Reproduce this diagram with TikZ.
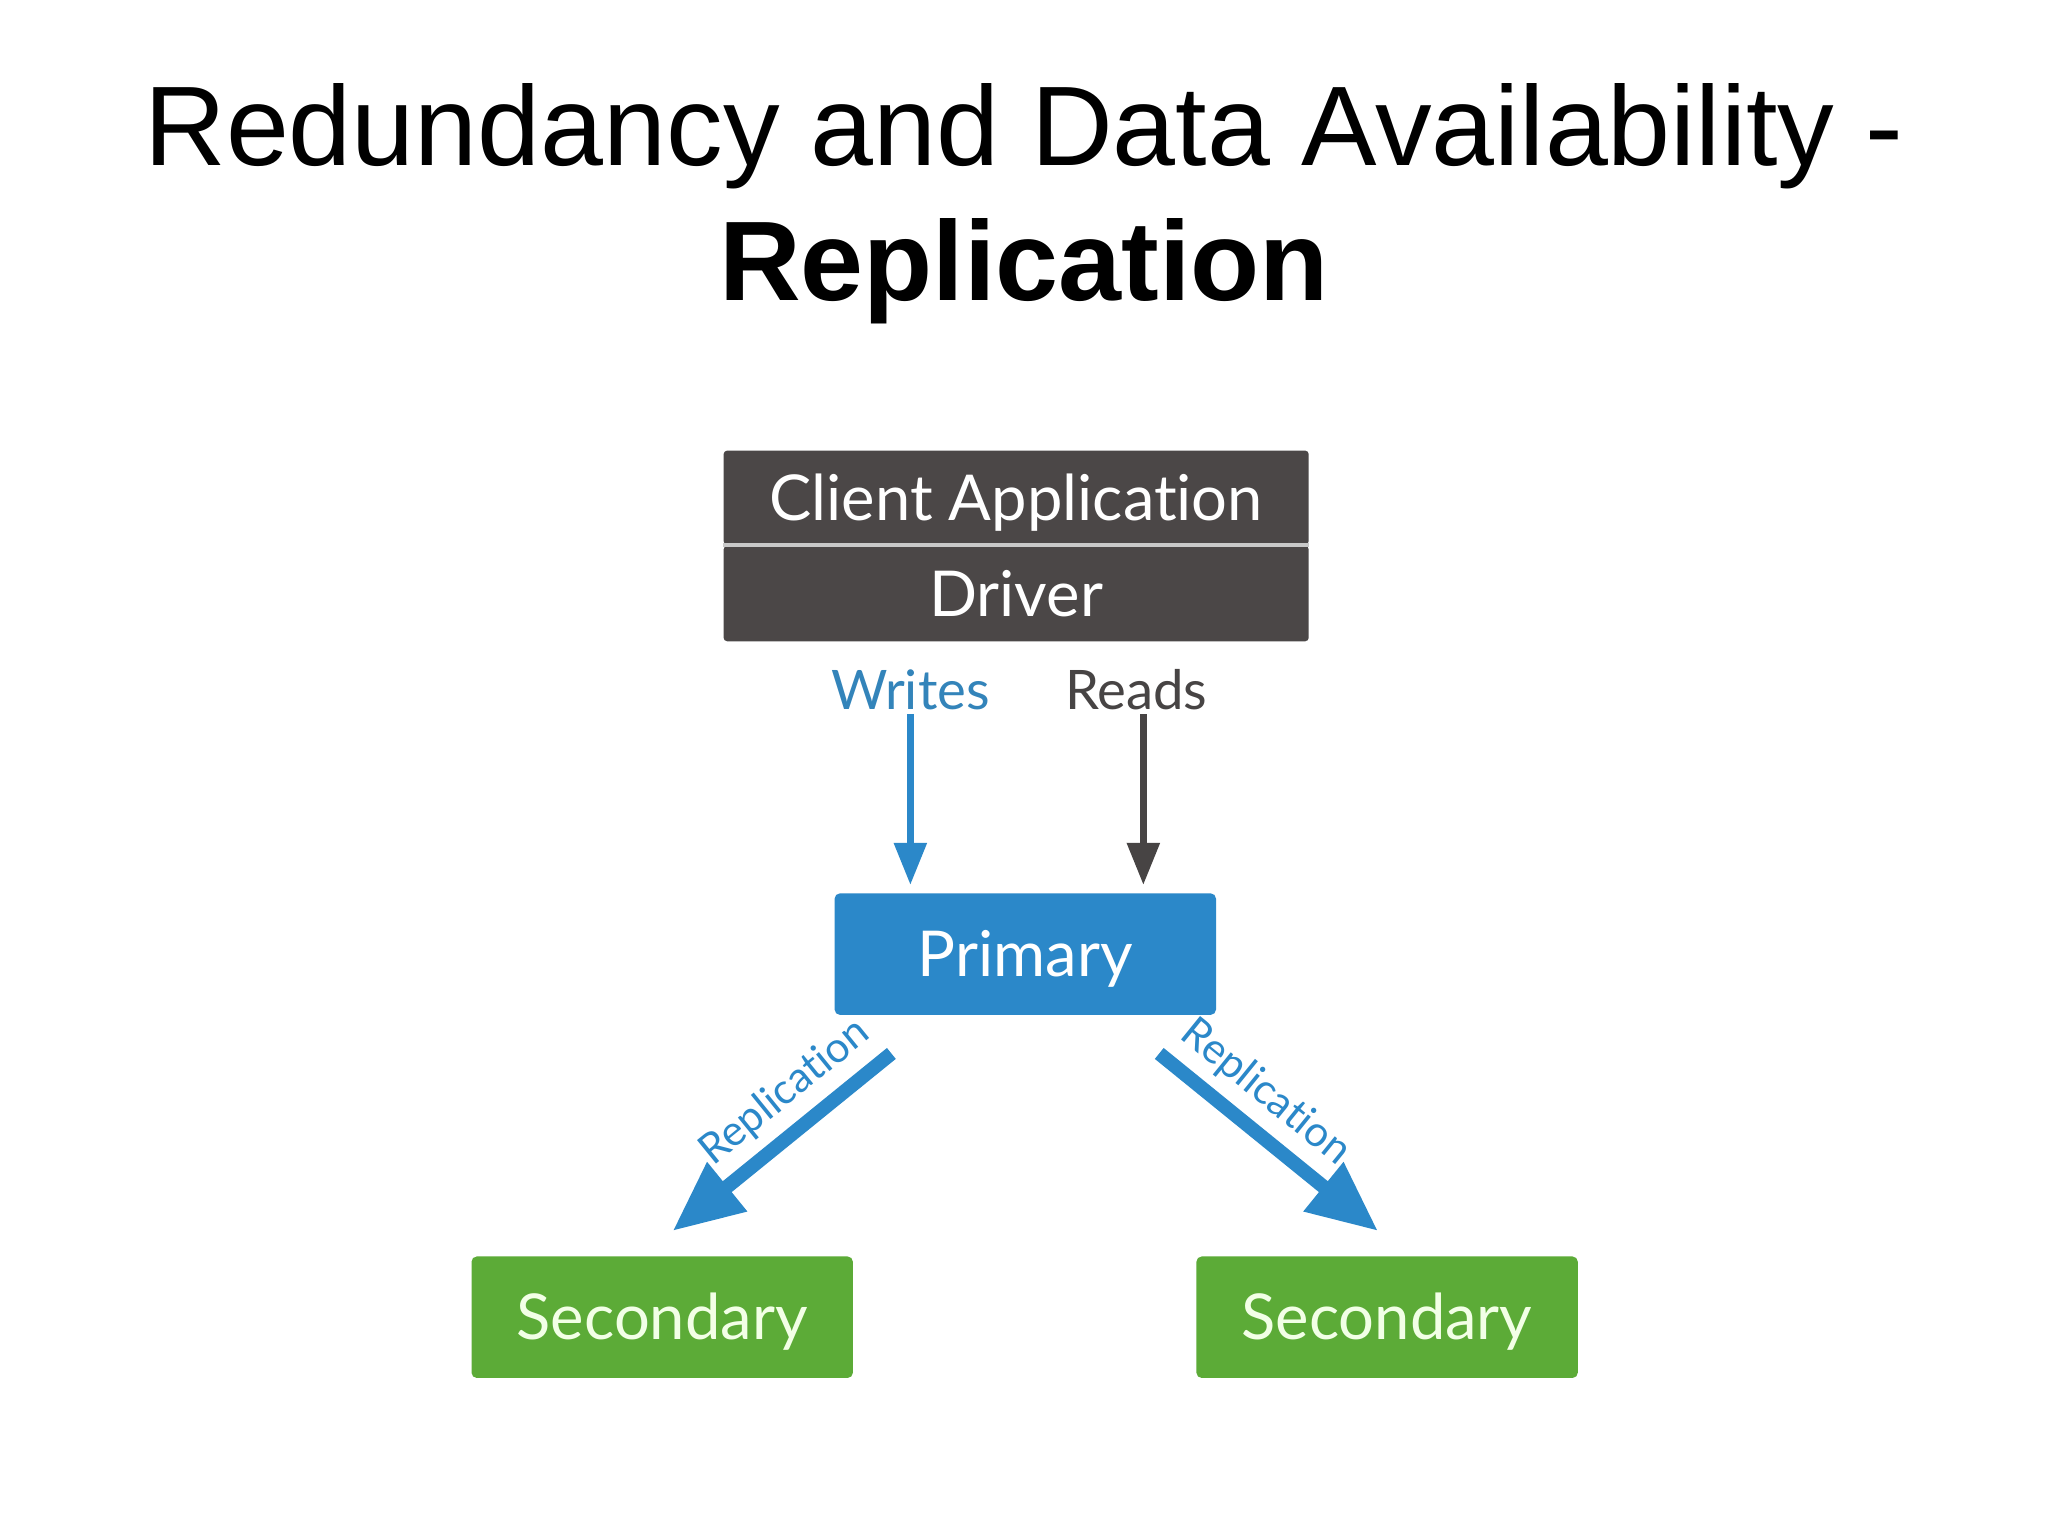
\documentclass[tikz,border=0pt]{standalone}
\usepackage{fontspec}
\setmainfont{Liberation Sans}
\newfontfamily\diagfont{Lato}[Ligatures={NoCommon}]
\usetikzlibrary{arrows.meta}
\definecolor{boxgray}{HTML}{4B4747}
\definecolor{sepgray}{HTML}{C9C9C9}
\definecolor{primblue}{HTML}{2B88C9}
\definecolor{wrblue}{HTML}{3384BA}
\definecolor{rdgray}{HTML}{474444}
\definecolor{secgreen}{HTML}{5CAB37}
\definecolor{sectext}{HTML}{F2FFE6}
\tikzset{
  headbox/.style={fill=boxgray,text=white,rounded corners=1pt,minimum width=5.851cm,
    inner sep=0pt,text height=12.9pt,text depth=0pt,font=\diagfont\fontsize{18}{21}\selectfont},
  rolebox/.style={rounded corners=1.5pt,minimum width=3.814cm,minimum height=1.215cm,
    inner sep=0pt,text height=12.9pt,text depth=0pt,font=\diagfont\fontsize{18}{21}\selectfont},
  oplabel/.style={font=\diagfont\fontsize{15.5}{18}\selectfont,inner sep=1pt},
  oparrow/.style={line width=2pt,-{Triangle[length=12pt,width=9pt]}},
  reparrow/.style={line width=4pt,primblue,-{Triangle[length=20pt,width=17pt]}},
  replabel/.style={font=\diagfont\fontsize{12}{14}\selectfont,text=primblue,inner sep=3pt}
}
\begin{document}
\begin{tikzpicture}[x=0.01306cm,y=-0.01306cm]
  \useasboundingbox[fill=white] (0,0) rectangle (1568,1176);
  % title
  \node[anchor=base,font=\fontsize{32.2}{38}\selectfont] (title) at (784,127) {Redundancy and Data Availability -};
  \node[anchor=base,font=\bfseries\fontsize{32.2}{38}\selectfont] (subtitle) at (784,230) {Replication};
  % client stack
  \node[headbox,minimum height=0.940cm] (client) at (778,381) {Client Application};
  \node[headbox,minimum height=0.953cm] (driver) at (778,454.5) {Driver};
  \draw[sepgray,line width=1.2pt] (client.south west) -- (client.south east);
  % replica set
  \node[rolebox,fill=primblue,text=white] (primary) at (785,730.5) {Primary};
  \node[rolebox,fill=secgreen,text=sectext] (secL) at (507,1008.5) {Secondary};
  \node[rolebox,fill=secgreen,text=sectext] (secR) at (1062,1008.5) {Secondary};
  % reads and writes
  \node[oplabel,text=wrblue] (writes) at (697,528) {Writes};
  \node[oplabel,text=rdgray] (reads) at (870,528) {Reads};
  \draw[oparrow,primblue] (writes.south) -- ([yshift=2.2pt]writes.south |- primary.north);
  \draw[oparrow,rdgray] ([xshift=2pt]reads.south) -- ([xshift=2pt,yshift=2.2pt]reads.south |- primary.north);
  % replication
  \coordinate (repLa) at ([shift={(44,29)}]primary.south west);
  \coordinate (repLb) at ([shift={(8,-19)}]secL.north);
  \coordinate (repRa) at ([shift={(-44,29)}]primary.south east);
  \coordinate (repRb) at ([shift={(-7,-19)}]secR.north);
  \draw[reparrow] (repLa) -- (repLb) node[replabel,sloped,above,pos=0.38] {Replication};
  \draw[reparrow] (repRa) -- (repRb) node[replabel,sloped,above,pos=0.38] {Replication};
\end{tikzpicture}
\end{document}
